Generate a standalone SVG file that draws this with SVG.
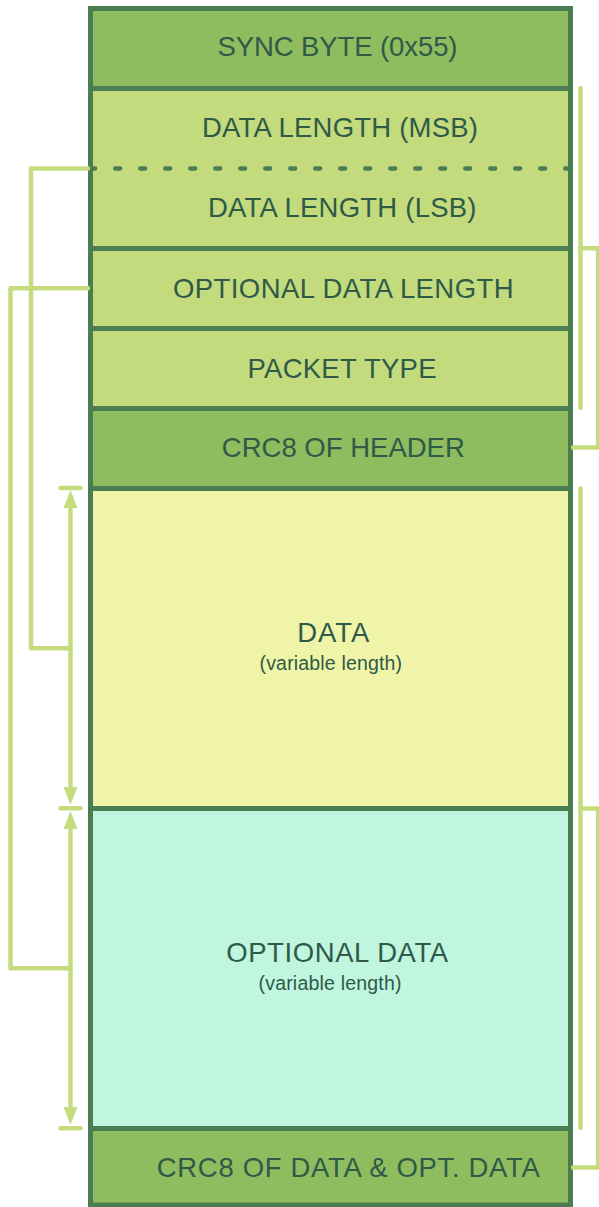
<svg xmlns="http://www.w3.org/2000/svg" width="599" height="1207" viewBox="0 0 599 1207">
  <style>
    .cell { stroke: #4a7e52; stroke-width: 5; }
    .dark { fill: #8fbc5f; }
    .light { fill: #c3da7d; }
    .yellow { fill: #f0f4a8; }
    .mint { fill: #c0f5df; }
    .t { font-family: "Liberation Sans", Arial, Helvetica, sans-serif; font-size: 27.5px; fill: #2e5a47; text-anchor: middle; }
    .s { font-family: "Liberation Sans", Arial, Helvetica, sans-serif; font-size: 19.5px; fill: #2e5a47; text-anchor: middle; }
    .conn { fill: none; stroke: #c5dc7e; stroke-width: 4.5; stroke-linejoin: round; stroke-linecap: round; }
    .dotted { fill: none; stroke: #4a7e52; stroke-width: 4.3; stroke-dasharray: 5 20; stroke-linecap: round; }
  </style>
  <defs>
    <marker id="arrow" markerUnits="userSpaceOnUse" markerWidth="20" markerHeight="14" viewBox="0 0 20 14" refX="8" refY="7" orient="auto-start-reverse">
      <path d="M0,0 L18,7 L0,14 z" fill="#c5dc7e"/>
    </marker>
  </defs>

  <g id="sync">
    <rect class="cell dark" x="90.5" y="8.5" width="480" height="80"/>
    <text class="t" x="337.5" y="56" textLength="240">SYNC BYTE (0x55)</text>
  </g>
  <g id="data-length">
    <rect class="cell light" x="90.5" y="88.5" width="480" height="160"/>
    <text class="t" x="340" y="136.5" textLength="276">DATA LENGTH (MSB)</text>
    <text class="t" x="342.2" y="216.7" textLength="268.5">DATA LENGTH (LSB)</text>
  </g>
  <g id="opt-length">
    <rect class="cell light" x="90.5" y="248.5" width="480" height="80"/>
    <text class="t" x="343.3" y="297.6" textLength="340.5">OPTIONAL DATA LENGTH</text>
  </g>
  <g id="packet-type">
    <rect class="cell light" x="90.5" y="328.5" width="480" height="80"/>
    <text class="t" x="342" y="378.3" textLength="189">PACKET TYPE</text>
  </g>
  <g id="crc-header">
    <rect class="cell dark" x="90.5" y="408.5" width="480" height="80"/>
    <text class="t" x="343.3" y="457.3" textLength="243">CRC8 OF HEADER</text>
  </g>
  <g id="data">
    <rect class="cell yellow" x="90.5" y="488.5" width="480" height="320"/>
    <text class="t" x="333.3" y="642.3" textLength="72">DATA</text>
    <text class="s" x="330.8" y="669.5" textLength="142.5">(variable length)</text>
  </g>
  <g id="optional-data">
    <rect class="cell mint" x="90.5" y="808.5" width="480" height="320"/>
    <text class="t" x="337.2" y="962.3" textLength="222">OPTIONAL DATA</text>
    <text class="s" x="330" y="990" textLength="143">(variable length)</text>
  </g>
  <g id="crc-data">
    <rect class="cell dark" x="90.5" y="1128.5" width="480" height="76.5"/>
    <text class="t" x="348.3" y="1177.3" textLength="383">CRC8 OF DATA &amp; OPT. DATA</text>
  </g>

  <g id="connectors">
    <path class="dotted" d="M90.2,168.5 L570,168.5"/>
    <path class="conn" d="M88,168.5 L31,168.5 L31,648.3 L70.5,648.3"/>
    <path class="conn" d="M88,288.3 L10.5,288.3 L10.5,968.3 L70.5,968.3"/>
    <path class="conn" d="M70.5,500 L70.5,795" stroke-linecap="butt" marker-start="url(#arrow)" marker-end="url(#arrow)"/>
    <path class="conn" d="M70.5,821 L70.5,1115" stroke-linecap="butt" marker-start="url(#arrow)" marker-end="url(#arrow)"/>
    <path class="conn" d="M60.5,488 L80.5,488"/>
    <path class="conn" d="M60.5,808.3 L80.5,808.3"/>
    <path class="conn" d="M60.5,1128.3 L80.5,1128.3"/>
    <path class="conn" d="M580.5,88.3 L580.5,407.8"/>
    <path class="conn" d="M580.5,248.3 L598.3,248.3 L598.3,447.5 L573,447.5"/>
    <path class="conn" d="M580.5,488.5 L580.5,1127.8"/>
    <path class="conn" d="M580.5,808.5 L598.3,808.5 L598.3,1167.5 L573,1167.5"/>
  </g>
</svg>
